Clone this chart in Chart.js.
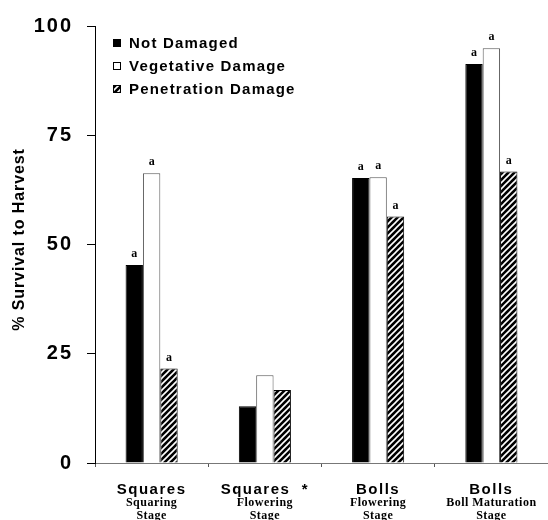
<!DOCTYPE html>
<html lang="en">
<head>
    <meta charset="UTF-8">
    <title>Survival to Harvest</title>
    <style>
        body {
            margin: 0;
            padding: 0;
            background: #fff;
        }
        #wrap {
            width: 548px;
            height: 520px;
        }
    </style>
</head>
<body>
    <div id="wrap">
        <canvas id="myChart" width="548" height="520"></canvas>
    </div>

    <script src="https://cdn.jsdelivr.net/npm/chart.js"></script>
    <script>
        // data
        const categories = ['Squares', 'Squares  *', 'Bolls', 'Bolls'];
        const stageLines = [['Squaring', 'Stage'], ['Flowering', 'Stage'], ['Flowering', 'Stage'], ['Boll Maturation', 'Stage']];
        const seriesNames = ['Not Damaged', 'Vegetative Damage', 'Penetration Damage'];
        const notDamaged = [45.3, 13.0, 65.2, 91.3];
        const vegetativeDamage = [66.3, 20.1, 65.4, 94.9];
        const penetrationDamage = [21.6, 16.7, 56.4, 66.7];
        const notDamagedLetters = ['a', '', 'a', 'a'];
        const vegetativeLetters = ['a', '', 'a', 'a'];
        const penetrationLetters = ['a', '', 'a', 'a'];
        const yTicks = [0, 25, 50, 75, 100];
        const yTitle = '% Survival to Harvest';

        const SANS = '"Liberation Sans", Arial, sans-serif';
        const SERIF = '"Liberation Serif", "Times New Roman", serif';

        function makeHatch() {
            const c = document.createElement('canvas');
            c.width = 6;
            c.height = 6;
            const g = c.getContext('2d');
            g.fillStyle = '#000';
            g.fillRect(0, 0, 6, 6);
            g.strokeStyle = '#fff';
            g.lineWidth = 1.6;
            g.beginPath();
            g.moveTo(0, 6); g.lineTo(6, 0);
            g.moveTo(-3, 3); g.lineTo(3, -3);
            g.moveTo(3, 9); g.lineTo(9, 3);
            g.stroke();
            return g.createPattern(c, 'repeat');
        }
        const hatch = makeHatch();

        const letters = [notDamagedLetters, vegetativeLetters, penetrationLetters];

        // letters above the bars, stage labels, legend and y title
        const extras = {
            id: 'extras',
            beforeDraw(chart) {
                chart.ctx.letterSpacing = '2px';
            },
            afterDatasetsDraw(chart) {
                const ctx = chart.ctx;
                ctx.save();
                ctx.letterSpacing = '0px';
                ctx.font = 'bold 12px ' + SERIF;
                ctx.fillStyle = '#000';
                ctx.textAlign = 'center';
                ctx.textBaseline = 'alphabetic';
                chart.data.datasets.forEach((ds, i) => {
                    chart.getDatasetMeta(i).data.forEach((bar, j) => {
                        if (letters[i][j]) ctx.fillText(letters[i][j], bar.x, bar.y - 8);
                    });
                });
                ctx.restore();
            },
            afterDraw(chart) {
                const ctx = chart.ctx;
                const xs = chart.scales.x;
                const area = chart.chartArea;
                ctx.save();
                ctx.fillStyle = '#000';
                ctx.textAlign = 'center';
                ctx.textBaseline = 'alphabetic';
                categories.forEach((cat, i) => {
                    const cx = xs.getPixelForValue(i);
                    ctx.letterSpacing = '1.5px';
                    ctx.font = 'bold 15px ' + SANS;
                    ctx.fillText(cat, cx, 494);
                    ctx.letterSpacing = '0.5px';
                    ctx.font = 'bold 12px ' + SERIF;
                    ctx.fillText(stageLines[i][0], cx, 506);
                    ctx.fillText(stageLines[i][1], cx, 519);
                });

                // y title
                ctx.save();
                ctx.translate(20, (area.top + area.bottom) / 2 - 5);
                ctx.rotate(-Math.PI / 2);
                ctx.letterSpacing = '0.9px';
                ctx.font = 'bold 16px ' + SANS;
                ctx.textBaseline = 'middle';
                ctx.fillText(yTitle, 0, 0);
                ctx.restore();

                // legend
                const fills = chart.data.datasets.map(ds => ds.backgroundColor);
                ctx.textAlign = 'left';
                ctx.letterSpacing = '1.2px';
                ctx.font = 'bold 15px ' + SANS;
                seriesNames.forEach((name, i) => {
                    const base = 48 + i * 23;
                    ctx.fillStyle = fills[i];
                    ctx.fillRect(113, base - 9, 8, 8);
                    ctx.strokeStyle = '#000';
                    ctx.lineWidth = 1;
                    ctx.strokeRect(113.5, base - 8.5, 7, 7);
                    ctx.fillStyle = '#000';
                    ctx.fillText(name, 129, base);
                });
                ctx.restore();
            }
        };

        const ctx = document.getElementById('myChart').getContext('2d');
        const myChart = new Chart(ctx, {
            type: 'bar',
            data: {
                labels: categories,
                datasets: [{
                    label: seriesNames[0],
                    data: notDamaged,
                    backgroundColor: '#000',
                    borderColor: '#000',
                    borderWidth: 1
                },
                {
                    label: seriesNames[1],
                    data: vegetativeDamage,
                    backgroundColor: '#fff',
                    borderColor: '#555',
                    borderWidth: 1
                },
                {
                    label: seriesNames[2],
                    data: penetrationDamage,
                    backgroundColor: hatch,
                    borderColor: '#000',
                    borderWidth: 1
                }]
            },
            options: {
                responsive: false,
                animation: false,
                barPercentage: 1,
                categoryPercentage: 0.46,
                layout: {
                    padding: { top: 20, right: 0, left: 0, bottom: 0 }
                },
                plugins: {
                    legend: { display: false },
                    tooltip: { enabled: false }
                },
                scales: {
                    x: {
                        ticks: { display: false },
                        grid: {
                            drawOnChartArea: false,
                            drawTicks: true,
                            tickLength: 4,
                            color: '#555',
                            offset: true
                        },
                        border: { display: true, color: '#777', width: 1 },
                        afterFit(scale) {
                            scale.height = 57;
                        }
                    },
                    y: {
                        min: 0,
                        max: 100,
                        afterBuildTicks(scale) {
                            scale.ticks = yTicks.map(v => ({ value: v }));
                        },
                        ticks: {
                            color: '#000',
                            padding: 14,
                            font: { family: SANS, size: 20, weight: 'bold' }
                        },
                        grid: {
                            drawOnChartArea: false,
                            drawTicks: true,
                            tickLength: 8,
                            color: '#000'
                        },
                        border: { display: true, color: '#000', width: 1 },
                        afterFit(scale) {
                            scale.width = 95;
                        }
                    }
                }
            },
            plugins: [extras]
        });
    </script>
</body>
</html>
